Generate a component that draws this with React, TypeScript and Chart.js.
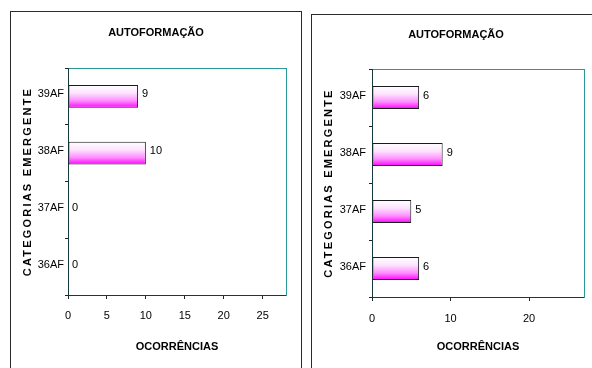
import React, { useEffect, useRef } from 'react';
import { Chart, registerables } from 'chart.js';

Chart.register(...registerables);

// ---- data ----
const categories = ['36AF', '37AF', '38AF', '39AF'];
const leftValues = [0, 0, 10, 9];
const rightValues = [6, 5, 9, 6];
const leftAxisMax = 28;
const leftAxisStep = 5;
const rightAxisMax = 27;
const rightAxisStep = 10;
const chartTitle = 'AUTOFORMAÇÃO';
const xAxisTitle = 'OCORRÊNCIAS';
const yAxisTitle = 'CATEGORIAS EMERGENTE';

const FONT = "'Liberation Sans Narrow', 'Arial Narrow', 'Liberation Sans', Arial, sans-serif";
const TEAL = '#2a9898';
const AXIS = '#173a3a';

type PanelCfg = {
  values: number[];
  max: number;
  step: number;
  width: number;
  height: number;
  yWidth: number;
  rightW: number;
  titlePadTop: number;
  titlePadBottom: number;
  xHeight: number;
  xTickPad: number;
  xTitlePad: number;
  yTitlePad: number;
  yTickPad: number;
};

function buildChart(canvas: HTMLCanvasElement, cfg: PanelCfg) {
  const valueLabels = {
    id: 'valueLabels',
    afterDatasetsDraw(chart: any) {
      const ctx = chart.ctx;
      const meta = chart.getDatasetMeta(0);
      ctx.save();
      ctx.font = `11px ${FONT}`;
      ctx.fillStyle = '#000';
      ctx.textAlign = 'left';
      ctx.textBaseline = 'middle';
      meta.data.forEach((el: any, i: number) => {
        const v = chart.data.datasets[0].data[i];
        ctx.fillText(String(v), el.x + 4, el.y - 2);
      });
      ctx.restore();
    },
  };
  const spacedTitle = {
    id: 'spacedTitle',
    afterLayout(chart: any) {
      const s: any = chart.scales.y;
      if (s && !s.__spaced) {
        const orig = s.drawTitle;
        s.drawTitle = function (this: any) {
          const c: any = this.ctx;
          const prev = c.letterSpacing;
          c.letterSpacing = '2.2px';
          orig.call(this);
          c.letterSpacing = prev || '0px';
        };
        s.__spaced = true;
      }
    },
  };

  const gradientFill = (ctx: any) => {
    const chart = ctx.chart;
    const y = chart.scales?.y;
    if (!y || ctx.dataIndex === undefined) return '#ff66ff';
    const c = y.getPixelForValue(ctx.dataIndex);
    const h = (y.height / categories.length) * 0.4;
    if (!Number.isFinite(c) || !Number.isFinite(h) || h <= 0) return '#ff66ff';
    const g = chart.ctx.createLinearGradient(0, c - h / 2, 0, c + h / 2);
    g.addColorStop(0, '#ffffff');
    g.addColorStop(0.35, '#fde4fd');
    g.addColorStop(0.7, '#ff8cff');
    g.addColorStop(1, '#ff00ff');
    return g;
  };

  return new Chart(canvas, {
    type: 'bar',
    data: {
      labels: categories,
      datasets: [
        {
          data: cfg.values,
          backgroundColor: gradientFill,
          borderColor: '#1a1a1a',
          borderWidth: 1,
          borderSkipped: false,
          categoryPercentage: 1,
          barPercentage: 0.4,
        },
      ],
    },
    options: {
      indexAxis: 'y',
      animation: false,
      responsive: false,
      events: [],
      layout: { padding: 0 },
      plugins: {
        legend: { display: false },
        tooltip: { enabled: false },
        title: {
          display: true,
          text: chartTitle,
          color: '#000',
          font: { family: FONT, size: 11, weight: 'bold' },
          padding: { top: cfg.titlePadTop, bottom: cfg.titlePadBottom },
        },
      },
      scales: {
        x: {
          type: 'linear',
          position: 'bottom',
          min: 0,
          max: cfg.max,
          ticks: {
            stepSize: cfg.step,
            includeBounds: false,
            color: '#000',
            font: { family: FONT, size: 11 },
            padding: cfg.xTickPad,
            maxRotation: 0,
          },
          grid: { drawOnChartArea: false, drawTicks: true, tickLength: 4, color: '#222' },
          border: { display: true, color: AXIS, width: 1 },
          title: {
            display: true,
            text: xAxisTitle,
            color: '#000',
            font: { family: FONT, size: 11, weight: 'bold' },
            padding: { top: 0, bottom: cfg.xTitlePad },
          },
          afterFit: (s: any) => {
            s.height = cfg.xHeight;
          },
        },
        x2: {
          type: 'linear',
          position: 'top',
          min: 0,
          max: cfg.max,
          ticks: { display: false },
          grid: { display: false, drawTicks: false },
          border: { display: true, color: TEAL, width: 1 },
          afterFit: (s: any) => {
            s.height = 0;
          },
        },
        y: {
          type: 'category',
          position: 'left',
          reverse: true,
          ticks: {
            color: '#000',
            font: { family: FONT, size: 11 },
            padding: cfg.yTickPad,
            labelOffset: -2,
          },
          grid: { offset: true, drawOnChartArea: false, drawTicks: true, tickLength: 3, color: '#222' },
          border: { display: true, color: AXIS, width: 1 },
          title: {
            display: true,
            text: yAxisTitle,
            color: '#000',
            font: { family: FONT, size: 11, weight: 'bold' },
            padding: { top: cfg.yTitlePad, bottom: 0 },
          },
          afterFit: (s: any) => {
            s.width = cfg.yWidth;
          },
        },
        y2: {
          type: 'linear',
          position: 'right',
          min: 0,
          max: 1,
          ticks: { display: false },
          grid: { display: false, drawTicks: false },
          border: { display: true, color: TEAL, width: 1 },
          afterFit: (s: any) => {
            s.width = cfg.rightW;
          },
        },
      },
    } as any,
    plugins: [valueLabels, spacedTitle],
  });
}

function Panel({ cfg, left, top, showRight }: { cfg: PanelCfg; left: number; top: number; showRight: boolean }) {
  const ref = useRef<HTMLCanvasElement | null>(null);
  useEffect(() => {
    if (!ref.current) return;
    const chart = buildChart(ref.current, cfg);
    return () => chart.destroy();
  }, []);
  return (
    <div
      style={{
        position: 'absolute',
        left,
        top,
        width: cfg.width,
        height: cfg.height,
        border: '1px solid #2b2b2b',
        borderRightColor: showRight ? '#2b2b2b' : 'transparent',
        background: '#fff',
      }}
    >
      <canvas ref={ref} width={cfg.width} height={cfg.height} style={{ display: 'block', width: cfg.width, height: cfg.height }} />
    </div>
  );
}

const leftCfg: PanelCfg = {
  values: leftValues,
  max: leftAxisMax,
  step: leftAxisStep,
  width: 290,
  height: 370,
  yWidth: 57,
  rightW: 15,
  titlePadTop: 14.7,
  titlePadBottom: 28.1,
  xHeight: 87,
  xTickPad: 10,
  xTitlePad: 28,
  yTitlePad: 10.4,
  yTickPad: 1,
};

const rightCfg: PanelCfg = {
  values: rightValues,
  max: rightAxisMax,
  step: rightAxisStep,
  width: 288,
  height: 370,
  yWidth: 60,
  rightW: 16,
  titlePadTop: 13.4,
  titlePadBottom: 27.4,
  xHeight: 88,
  xTickPad: 11,
  xTitlePad: 31.4,
  yTitlePad: 10.7,
  yTickPad: 3,
};

export default function App() {
  return (
    <div style={{ position: 'fixed', left: 0, top: 0, width: 592, height: 368, overflow: 'hidden', background: '#fff' }}>
      <Panel cfg={leftCfg} left={10} top={11} showRight={true} />
      <Panel cfg={rightCfg} left={311} top={14} showRight={false} />
    </div>
  );
}
